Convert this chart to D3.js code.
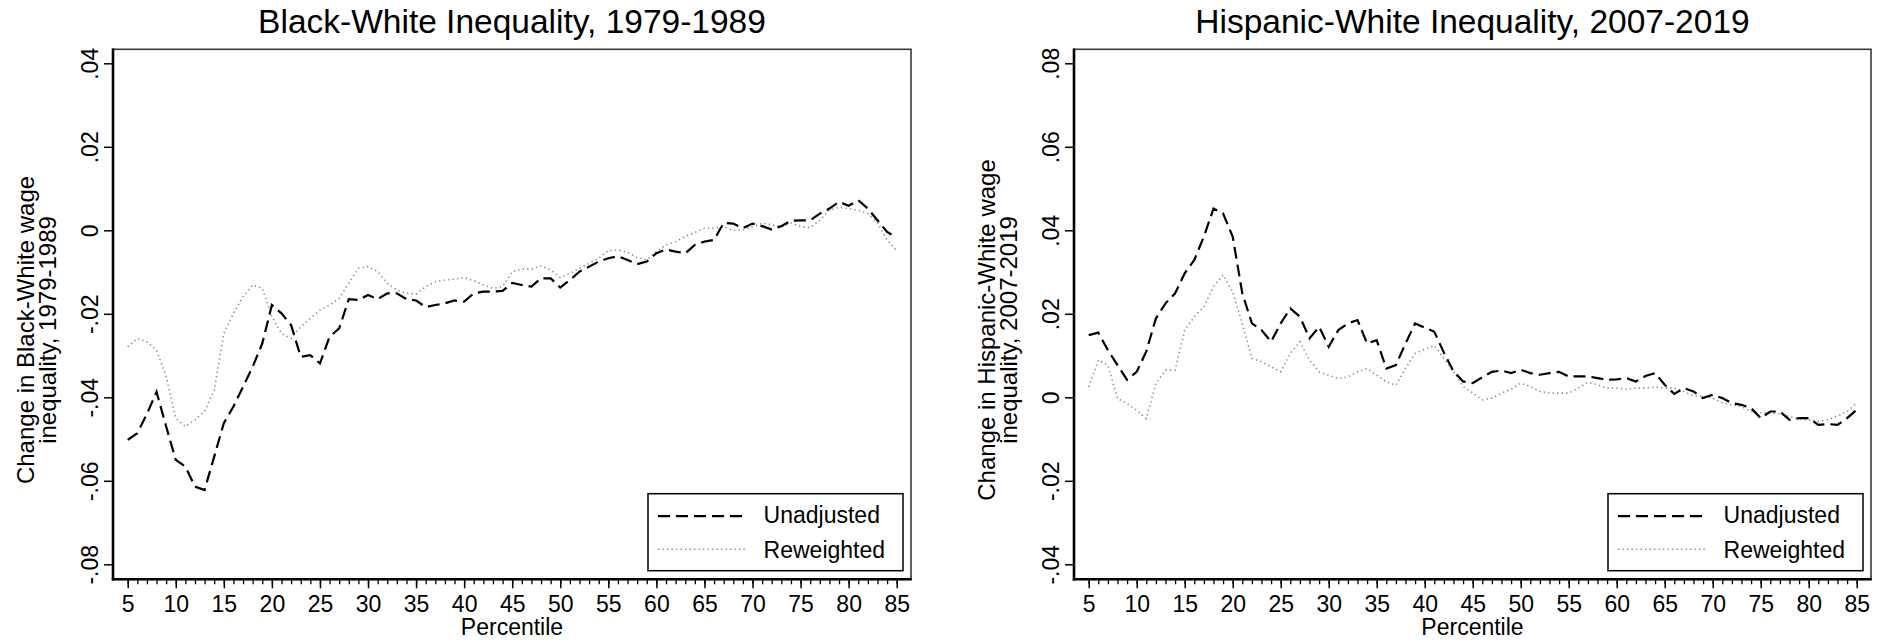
<!DOCTYPE html>
<html>
<head>
<meta charset="utf-8">
<script src="https://cdn.jsdelivr.net/npm/d3@7/dist/d3.min.js"></script>
<style>
  body { margin: 0; background: #fff; }
  svg { font-family: "Liberation Sans", Arial, sans-serif; }
</style>
</head>
<body>
<svg id="chart" width="1885" height="643"></svg>
<script>
// x categories (percentiles)
const percentiles = [5,6,7,8,9,10,11,12,13,14,15,16,17,18,19,20,21,22,23,24,25,26,27,28,29,30,
  31,32,33,34,35,36,37,38,39,40,41,42,43,44,45,46,47,48,49,50,51,52,53,54,55,56,57,58,59,60,
  61,62,63,64,65,66,67,68,69,70,71,72,73,74,75,76,77,78,79,80,81,82,83,84,85];
const xTicks = [5,10,15,20,25,30,35,40,45,50,55,60,65,70,75,80,85];

// Black-White 1979-1989
const bwTicks = [-0.08,-0.06,-0.04,-0.02,0,0.02,0.04];
const bwUnadjusted = [-0.0502,-0.0486,-0.0440,-0.0387,-0.0470,-0.0550,-0.0566,-0.0614,-0.0622,-0.0542,
  -0.0462,-0.0422,-0.0375,-0.0327,-0.0271,-0.0179,-0.0199,-0.0227,-0.0303,-0.0299,
  -0.0319,-0.0255,-0.0235,-0.0165,-0.0167,-0.0155,-0.0165,-0.0151,-0.0151,-0.0165,
  -0.0168,-0.0184,-0.0179,-0.0175,-0.0168,-0.0171,-0.0151,-0.0147,-0.0147,-0.0145,
  -0.0126,-0.0131,-0.0135,-0.0115,-0.0115,-0.0137,-0.0119,-0.0099,-0.0087,-0.0075,
  -0.0067,-0.0062,-0.0071,-0.0081,-0.0075,-0.0055,-0.0046,-0.0051,-0.0055,-0.0035,
  -0.0027,-0.0023,0.0018,0.0016,0.0005,0.0016,0.0010,0.0002,0.0010,0.0023,
  0.0024,0.0024,0.0040,0.0052,0.0068,0.0059,0.0072,0.0052,0.0024,-0.0004,-0.0017];
const bwReweighted = [-0.0279,-0.0259,-0.0267,-0.0287,-0.0350,-0.0450,-0.0470,-0.0454,-0.0434,-0.0383,
  -0.0247,-0.0199,-0.0159,-0.0131,-0.0139,-0.0207,-0.0247,-0.0259,-0.0231,-0.0211,
  -0.0191,-0.0179,-0.0163,-0.0127,-0.0091,-0.0087,-0.0099,-0.0127,-0.0143,-0.0151,
  -0.0153,-0.0135,-0.0123,-0.0119,-0.0117,-0.0113,-0.0121,-0.0131,-0.0139,-0.0135,
  -0.0099,-0.0093,-0.0093,-0.0085,-0.0095,-0.0113,-0.0103,-0.0091,-0.0079,-0.0067,
  -0.0049,-0.0047,-0.0053,-0.0065,-0.0071,-0.0051,-0.0035,-0.0027,-0.0015,-0.0005,
  0.0005,0.0005,0.0009,0.0000,0.0001,0.0009,0.0017,0.0013,0.0009,0.0017,
  0.0009,0.0006,0.0024,0.0048,0.0055,0.0052,0.0048,0.0040,0.0018,-0.0023,-0.0049];

// Hispanic-White 2007-2019
const hwTicks = [-0.04,-0.02,0,0.02,0.04,0.06,0.08];
const hwUnadjusted = [0.0149,0.0155,0.0113,0.0077,0.0042,0.0061,0.0110,0.0189,0.0225,0.0249,
  0.0297,0.0329,0.0385,0.0452,0.0440,0.0385,0.0249,0.0177,0.0161,0.0133,
  0.0177,0.0213,0.0193,0.0141,0.0169,0.0121,0.0161,0.0177,0.0185,0.0129,
  0.0137,0.0069,0.0077,0.0129,0.0177,0.0167,0.0157,0.0107,0.0062,0.0038,
  0.0034,0.0048,0.0061,0.0064,0.0058,0.0066,0.0058,0.0054,0.0058,0.0061,
  0.0050,0.0050,0.0050,0.0046,0.0042,0.0043,0.0046,0.0038,0.0051,0.0058,
  0.0030,0.0008,0.0022,0.0014,-0.0002,0.0006,-0.0002,-0.0014,-0.0018,-0.0026,
  -0.0050,-0.0034,-0.0034,-0.0054,-0.0050,-0.0050,-0.0066,-0.0064,-0.0066,-0.0050,-0.0030];
const hwReweighted = [0.0025,0.0089,0.0077,-0.0003,-0.0015,-0.0031,-0.0051,0.0033,0.0065,0.0065,
  0.0161,0.0193,0.0217,0.0265,0.0293,0.0253,0.0177,0.0093,0.0085,0.0073,
  0.0061,0.0105,0.0133,0.0089,0.0061,0.0053,0.0045,0.0049,0.0061,0.0069,
  0.0053,0.0037,0.0029,0.0069,0.0105,0.0115,0.0124,0.0093,0.0062,0.0026,
  0.0010,-0.0006,-0.0002,0.0010,0.0019,0.0034,0.0026,0.0014,0.0010,0.0010,
  0.0010,0.0022,0.0036,0.0030,0.0022,0.0022,0.0019,0.0022,0.0022,0.0024,
  0.0022,0.0022,0.0014,0.0003,0.0003,-0.0002,-0.0013,-0.0018,-0.0022,-0.0034,
  -0.0037,-0.0037,-0.0040,-0.0046,-0.0052,-0.0054,-0.0058,-0.0054,-0.0045,-0.0034,-0.0014];

const svg = d3.select("#chart");
const frameTop = 49.3, frameBottom = 579.3;

function tickFmt(v) {
  if (Math.abs(v) < 1e-9) return "0";
  return v.toFixed(2).replace("0.", ".");
}

function drawPanel(opt) {
  const g = svg.append("g");
  const x = d3.scaleLinear().domain([5, 85]).range([opt.left + 14.7, opt.right - 14.3]);
  const y = d3.scaleLinear().domain([opt.yTicks[0], opt.yTicks[opt.yTicks.length - 1]]).range([564.3, 63.3]);

  // plot region outline
  g.append("rect")
    .attr("x", opt.left).attr("y", frameTop)
    .attr("width", opt.right - opt.left).attr("height", frameBottom - frameTop)
    .attr("fill", "none").attr("stroke", "#3a3a3a").attr("stroke-width", 1.6);

  // y axis
  const yAxis = g.append("g")
    .attr("transform", "translate(" + opt.left + ",0)")
    .call(d3.axisLeft(y).tickValues(opt.yTicks).tickSize(9).tickFormat(tickFmt));
  yAxis.select(".domain").remove();
  yAxis.selectAll("line").attr("stroke", "#000").attr("stroke-width", 1.5);
  yAxis.selectAll("text")
    .attr("transform", "rotate(-90)")
    .attr("x", 0).attr("y", -15).attr("dy", 0)
    .attr("text-anchor", "middle")
    .attr("font-size", 23).attr("fill", "#000");

  // x axis, minor then major ticks
  const xMinor = g.append("g")
    .attr("transform", "translate(0," + frameBottom + ")")
    .call(d3.axisBottom(x).tickValues(percentiles).tickSize(5).tickFormat(""));
  xMinor.select(".domain").remove();
  xMinor.selectAll("line").attr("stroke", "#000").attr("stroke-width", 1.3);

  const xAxis = g.append("g")
    .attr("transform", "translate(0," + frameBottom + ")")
    .call(d3.axisBottom(x).tickValues(xTicks).tickSize(9));
  xAxis.select(".domain").remove();
  xAxis.selectAll("line").attr("stroke", "#000").attr("stroke-width", 1.5);
  xAxis.selectAll("text")
    .attr("y", 33).attr("dy", 0)
    .attr("font-size", 23).attr("fill", "#000");

  // heavy axis lines along left and bottom
  g.append("line")
    .attr("x1", opt.left).attr("x2", opt.left)
    .attr("y1", frameTop - 0.8).attr("y2", frameBottom + 1.2)
    .attr("stroke", "#000").attr("stroke-width", 2.6);
  g.append("line")
    .attr("x1", opt.left - 1.2).attr("x2", opt.right + 0.8)
    .attr("y1", frameBottom).attr("y2", frameBottom)
    .attr("stroke", "#000").attr("stroke-width", 2.6);

  const line = d3.line()
    .x((d, i) => x(percentiles[i]))
    .y(d => y(d));

  g.append("path")
    .datum(opt.reweighted)
    .attr("fill", "none")
    .attr("stroke", "#8a8a8a")
    .attr("stroke-width", 1.6)
    .attr("stroke-dasharray", "1.3,3.2")
    .attr("d", line);

  g.append("path")
    .datum(opt.unadjusted)
    .attr("fill", "none")
    .attr("stroke", "#000")
    .attr("stroke-width", 2.2)
    .attr("stroke-dasharray", "12,6")
    .attr("d", line);

  // title
  g.append("text")
    .attr("x", (opt.left + opt.right) / 2).attr("y", 33)
    .attr("text-anchor", "middle")
    .attr("font-size", 33.5)
    .text(opt.title);

  // x axis title
  g.append("text")
    .attr("x", (opt.left + opt.right) / 2).attr("y", 635)
    .attr("text-anchor", "middle")
    .attr("font-size", 23)
    .text("Percentile");

  // y axis title (two lines)
  const yt = g.append("text")
    .attr("transform", "translate(" + (opt.left - 79) + ",330) rotate(-90)")
    .attr("text-anchor", "middle")
    .attr("font-size", 24);
  yt.append("tspan").attr("x", 0).attr("y", 0).text(opt.yTitle[0]);
  yt.append("tspan").attr("x", 0).attr("y", 22).text(opt.yTitle[1]);

  // legend
  const bx = opt.right - 263, by = 493.7;
  const leg = g.append("g");
  leg.append("rect")
    .attr("x", bx).attr("y", by).attr("width", 255).attr("height", 77)
    .attr("fill", "#fff").attr("stroke", "#000").attr("stroke-width", 1.5);
  leg.append("line")
    .attr("x1", bx + 10).attr("x2", bx + 99).attr("y1", by + 22.5).attr("y2", by + 22.5)
    .attr("stroke", "#000").attr("stroke-width", 2.2).attr("stroke-dasharray", "12,6");
  leg.append("line")
    .attr("x1", bx + 10).attr("x2", bx + 99).attr("y1", by + 55.5).attr("y2", by + 55.5)
    .attr("stroke", "#8a8a8a").attr("stroke-width", 1.6).attr("stroke-dasharray", "1.3,3.2");
  leg.append("text").attr("x", bx + 115.6).attr("y", by + 29.6).attr("font-size", 23).text("Unadjusted");
  leg.append("text").attr("x", bx + 115.6).attr("y", by + 64).attr("font-size", 23).text("Reweighted");
}

drawPanel({
  left: 113, right: 911,
  yTicks: bwTicks,
  unadjusted: bwUnadjusted, reweighted: bwReweighted,
  title: "Black-White Inequality, 1979-1989",
  yTitle: ["Change in Black-White wage", "inequality, 1979-1989"]
});

drawPanel({
  left: 1074, right: 1871,
  yTicks: hwTicks,
  unadjusted: hwUnadjusted, reweighted: hwReweighted,
  title: "Hispanic-White Inequality, 2007-2019",
  yTitle: ["Change in Hispanic-White wage", "inequality, 2007-2019"]
});
</script>
</body>
</html>
